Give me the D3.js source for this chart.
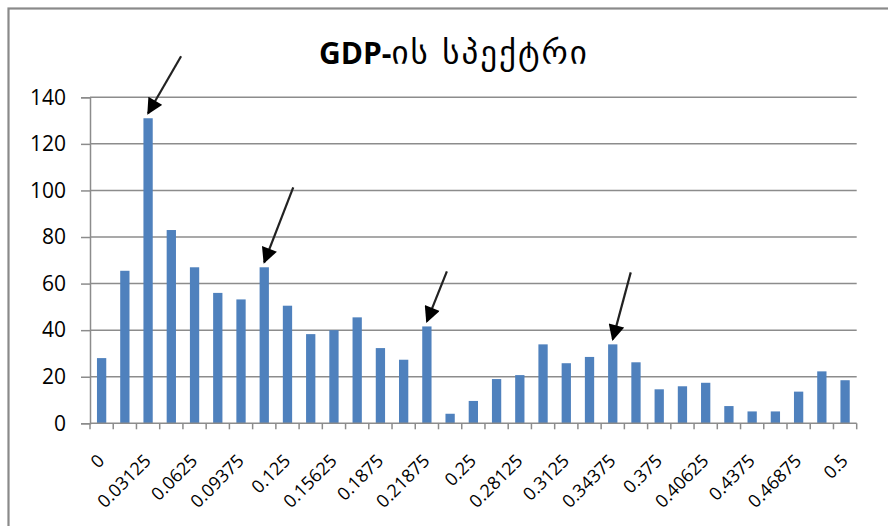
<!DOCTYPE html>
<html>
<head>
<meta charset="utf-8">
<script src="https://cdn.jsdelivr.net/npm/d3@7"></script>
<style>
  html, body { margin: 0; padding: 0; background: #fff; }
  svg { display: block; }
</style>
</head>
<body>
<svg id="chart" width="888" height="526"></svg>
<script>
// ---- data ----
const titleBold = "GDP-";
const titleRest = "ის სპექტრი";
const categories = ["0","0.015625","0.03125","0.046875","0.0625","0.078125","0.09375","0.109375",
  "0.125","0.140625","0.15625","0.171875","0.1875","0.203125","0.21875","0.234375",
  "0.25","0.265625","0.28125","0.296875","0.3125","0.328125","0.34375","0.359375",
  "0.375","0.390625","0.40625","0.421875","0.4375","0.453125","0.46875","0.484375","0.5"];
const values = [28, 65.5, 131, 83, 67, 56, 53.2, 67, 50.5, 38.3, 40, 45.5, 32.3, 27.3, 41.6, 4.1,
  9.6, 19, 20.7, 33.9, 25.8, 28.5, 33.9, 26.2, 14.6, 15.9, 17.4, 7.4, 5.1, 5.1, 13.6, 22.3, 18.5];
const yTicks = [0, 20, 40, 60, 80, 100, 120, 140];
const xTickLabels = ["0","0.03125","0.0625","0.09375","0.125","0.15625","0.1875","0.21875",
  "0.25","0.28125","0.3125","0.34375","0.375","0.40625","0.4375","0.46875","0.5"];
const arrowCategories = ["0.03125", "0.109375", "0.21875", "0.34375"];

// ---- layout ----
const svg = d3.select("#chart");
const pLeft = 90, pRight = 856.7, pTop = 97.3, pBottom = 423.3;
const font = "'Open Sans', 'DejaVu Sans', sans-serif";
const grid = "#8c8c8c";

svg.append("rect").attr("x", 8.5).attr("y", 8.5).attr("width", 890).attr("height", 530)
  .attr("fill", "#fff").attr("stroke", "#8a8a8a").attr("stroke-width", 2.2);

const x = d3.scaleBand().domain(categories).range([pLeft, pRight]).paddingInner(0.6).paddingOuter(0.3);
const y = d3.scaleLinear().domain([0, 140]).range([pBottom, pTop]);

// gridlines + y ticks
const yAxis = d3.axisLeft(y).tickValues(yTicks).tickSize(9).tickPadding(15).tickFormat(d3.format("d"));
const yg = svg.append("g").attr("transform", `translate(${pLeft},0)`).call(yAxis);
yg.select(".domain").attr("stroke", grid).attr("stroke-width", 1.5);
yg.selectAll(".tick line").attr("stroke", grid).attr("stroke-width", 1.5);
yg.selectAll(".tick text").attr("font-family", font).attr("font-size", 21).attr("fill", "#000");

svg.append("g").selectAll("line").data(yTicks.filter(d => d > 0)).join("line")
  .attr("x1", pLeft).attr("x2", pRight).attr("y1", d => y(d)).attr("y2", d => y(d))
  .attr("stroke", grid).attr("stroke-width", 1.5);

// bars
svg.append("g").selectAll("rect").data(values).join("rect")
  .attr("x", (d, i) => x(categories[i]))
  .attr("y", d => y(d))
  .attr("width", x.bandwidth())
  .attr("height", d => y(0) - y(d))
  .attr("fill", "#4f81bd");

// x axis line and ticks at category boundaries
const step = (pRight - pLeft) / categories.length;
svg.append("line").attr("x1", pLeft).attr("x2", pRight).attr("y1", pBottom).attr("y2", pBottom)
  .attr("stroke", grid).attr("stroke-width", 1.5);
svg.append("g").selectAll("line").data(d3.range(categories.length + 1)).join("line")
  .attr("x1", i => pLeft + i * step).attr("x2", i => pLeft + i * step)
  .attr("y1", pBottom).attr("y2", pBottom + 6)
  .attr("stroke", grid).attr("stroke-width", 1.5);

// x labels rotated
svg.append("g").selectAll("text").data(xTickLabels).join("text")
  .attr("transform", d => {
    const cx = x(d) + x.bandwidth() / 2 + 4;
    return `translate(${cx},${462}) rotate(-45)`;
  })
  .attr("text-anchor", "end")
  .attr("font-family", font).attr("font-size", 18).attr("fill", "#000")
  .text(d => d);

// title
const t = svg.append("text").attr("x", 454).attr("y", 64).attr("text-anchor", "middle")
  .attr("font-family", font).attr("font-size", 30).attr("fill", "#000");
t.append("tspan").attr("font-weight", "bold").text(titleBold);
t.append("tspan").attr("font-family", "'DejaVu Sans', sans-serif").attr("font-size", 33)
  .attr("letter-spacing", 2).text(titleRest);

// arrows
const defs = svg.append("defs");
defs.append("marker").attr("id", "ah").attr("viewBox", "0 0 10 10").attr("refX", 9).attr("refY", 5)
  .attr("markerUnits", "userSpaceOnUse")
  .attr("markerWidth", 18).attr("markerHeight", 16).attr("orient", "auto")
  .append("path").attr("d", "M0,0 L10,5 L0,10 Z").attr("fill", "#000");
const arrowOffsets = [[33, -57], [29, -75], [20, -50], [18, -67]];
svg.append("g").selectAll("line").data(arrowCategories).join("line")
  .attr("x1", (c, i) => x(c) + x.bandwidth() / 2 + arrowOffsets[i][0])
  .attr("y1", (c, i) => y(values[categories.indexOf(c)]) - 5 + arrowOffsets[i][1])
  .attr("x2", c => x(c) + x.bandwidth() / 2)
  .attr("y2", c => y(values[categories.indexOf(c)]) - 5)
  .attr("stroke", "#222").attr("stroke-width", 2.2)
  .attr("marker-end", "url(#ah)");
</script>
</body>
</html>
